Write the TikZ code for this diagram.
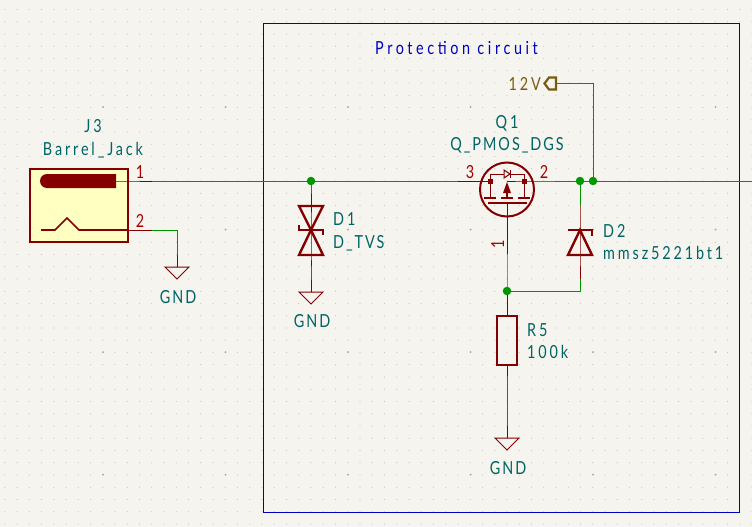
\documentclass[tikz,border=0pt]{standalone}
\usepackage{fontspec}
\setmainfont[LetterSpace=16,FakeStretch=0.8]{Lato}
\definecolor{paper}{HTML}{F5F4EF}
\definecolor{wirecol}{HTML}{009600}
\definecolor{symcol}{HTML}{840000}
\definecolor{bodycol}{HTML}{FFFFC2}
\definecolor{refcol}{HTML}{006464}
\definecolor{pincol}{HTML}{A90000}
\definecolor{portcol}{HTML}{7A5A10}
\definecolor{sheetcol}{HTML}{0000C2}
\newcommand{\tight}{\addfontfeature{LetterSpace=11}}
\newcommand{\wide}{\addfontfeature{LetterSpace=20}}
\tikzset{
wire/.style = {draw=wirecol, line width=0.95pt},
pinline/.style = {draw=symcol, line width=0.95pt},
sym/.style = {draw=symcol, line width=2.4pt},
thin sym/.style = {draw=symcol, line width=1pt},
junct/.style = {circle, fill=wirecol, inner sep=0pt, minimum size=8.5pt},
pinnum/.style = {text=pincol, font=\fontsize{18}{18}\selectfont, inner sep=0pt},
lbl/.style = {text=refcol, font=\fontsize{18}{18}\selectfont, inner sep=0pt},
}
\newcommand{\gndsym}[1]{\draw[thin sym] (#1) ++(-12,0) -- ++(24,0) -- ++(-12,12) -- cycle;}
\begin{document}
\begin{tikzpicture}[x=1pt, y=-1pt]
\useasboundingbox (0,0) rectangle (752,527);
\fill[paper] (0,0) rectangle (752,527);
% grid
\foreach \i in {0,...,61} \foreach \j in {0,...,43}
  \fill[black!22] ({4.75+12.25*\i},{9.5+12.25*\j}) circle (0.6);
\foreach \i in {0,...,5} \foreach \j in {1,...,4}
  \fill[black!35] ({103+122.5*\i},{-15.5+122.5*\j}) circle (1);
% sheet
\draw[sheetcol, line width=0.95pt] (263,23) rectangle (739,512);
\node[text=sheetcol, font=\fontsize{18}{18}\selectfont\wide, inner sep=0pt, anchor=base west] (title) at (375,55) {Protection circuit};
% points
\coordinate (j1) at (128,181);
\coordinate (j1e) at (152,181);
\coordinate (j2) at (128,230);
\coordinate (j2e) at (152,230);
\coordinate (g1) at (177,230);
\coordinate (g1p) at (177,255);
\coordinate (g1t) at (177,267);
\coordinate (n1) at (311,181);
\coordinate (d1t) at (311,194);
\coordinate (d1m) at (311,230);
\coordinate (d1b) at (311,255);
\coordinate (d1w) at (311,266);
\coordinate (g2p) at (311,280);
\coordinate (g2t) at (311,292);
\coordinate (q1s) at (458,181);
\coordinate (q1sp) at (490,181);
\coordinate (q1d) at (524,181);
\coordinate (q1dp) at (555,181);
\coordinate (q1g) at (507,203);
\coordinate (q1gp) at (507,254);
\coordinate (n2) at (507,291);
\coordinate (n3) at (580,181);
\coordinate (n4) at (593,181);
\coordinate (out) at (752,181);
\coordinate (d2t) at (580,205);
\coordinate (d2b) at (580,254);
\coordinate (d2w) at (580,279);
\coordinate (c2) at (580,291);
\coordinate (r5t) at (507,303);
\coordinate (r5tw) at (507,315);
\coordinate (r5b) at (507,365);
\coordinate (r5bw) at (507,376);
\coordinate (g3p) at (507,426);
\coordinate (g3t) at (507,438);
\coordinate (port) at (557,83.5);
\coordinate (pc) at (593,83.5);
% wires
\draw[wire] (j1e) -- (q1s);
\draw[wire] (q1dp) -- (out);
\draw[wire] (j2e) -- (g1) -- (g1p);
\draw[wire] (n1) -- (d1t);
\draw[wire] (d1w) -- (g2p);
\draw[wire] (n3) -- (d2t);
\draw[wire] (n4) -- (pc) -- (port);
\draw[wire] (d2w) -- (c2) -- (n2);
\draw[wire] (q1gp) -- (n2) -- (r5t);
\draw[wire] (r5bw) -- (g3p);
% J3
\draw[sym, fill=bodycol] (30,169) rectangle (128,242);
\fill[symcol] (116,174) -- (47,174) arc (90:270:7 and -7) -- (116,188) -- cycle;
\draw[symcol, line width=1.6pt] (41,230) -- (55,230) -- (67,218) -- (79,230) -- (128,230);
\draw[pinline] (116,181) -- (j1) -- (j1e);
\draw[pinline] (j2) -- (j2e);
\node[pinnum, anchor=base] (p1) at (140,178) {1};
\node[pinnum, anchor=base] (p2) at (140,227) {2};
\node[lbl, anchor=base] (j3ref) at (93,132) {J3};
\node[lbl, anchor=base] (j3val) at (93,155) {Barrel\_Jack};
% gnd 1
\draw[pinline] (g1p) -- (g1t);
\gndsym{g1t}
\node[lbl, anchor=base] (gnd1) at (178,303) {\tight GND};
% D1
\draw[pinline] (d1t) -- (d1m) -- (d1b) -- (d1w);
\draw[sym] (299,206) -- (323,206) -- (311,230) -- cycle;
\draw[sym] (299,255) -- (323,255) -- (311,230) -- cycle;
\draw[sym] (299,225) -- (299,230) -- (323,230) -- (323,235);
\node[lbl, anchor=base west] (d1ref) at (333,225) {D1};
\node[lbl, anchor=base west] (d1val) at (333,248) {\tight D\_TVS};
\draw[pinline] (g2p) -- (g2t);
\gndsym{g2t}
\node[lbl, anchor=base] (gnd2) at (312,327) {\tight GND};
% Q1
\draw[symcol, line width=2pt] (507,189.5) circle (27);
\draw[pinline] (q1s) -- (q1sp);
\draw[pinline] (q1dp) -- (q1d) -- (507,181);
\draw[thin sym] (q1sp) -- (490,174) -- (504,174);
\draw[thin sym] (510,174) -- (524,174) -- (q1d);
\draw[thin sym] (504,170) -- (504,178) -- (510,174) -- cycle;
\draw[thin sym] (510,170) -- (510,178);
\fill[symcol] (487.5,178.5) rectangle (492.5,183.5);
\fill[symcol] (521.5,178.5) rectangle (526.5,183.5);
\fill[symcol] (507,182) -- (503,193) -- (511,193) -- cycle;
\draw[symcol, line width=2pt] (484,197.5) -- (496,197.5);
\draw[symcol, line width=2pt] (501,197.5) -- (513,197.5);
\draw[symcol, line width=2pt] (518,197.5) -- (530,197.5);
\draw[symcol, line width=2pt] (488,203) -- (527,203);
\draw[thin sym] (q1sp) -- (490,197);
\draw[thin sym] (q1d) -- (524,197);
\draw[symcol, line width=1.6pt] (507,193) -- (507,197);
\draw[pinline] (q1g) -- (q1gp);
\node[pinnum, anchor=base] (p3) at (470,178) {3};
\node[pinnum, anchor=base] (p4) at (544,178) {2};
\node[pinnum, anchor=base, rotate=90] (p5) at (504,244) {1};
\node[lbl, anchor=base] (q1ref) at (507,128) {Q1};
\node[lbl, anchor=base] (q1val) at (507,150) {\tight Q\_PMOS\_DGS};
% D2
\draw[pinline] (d2t) -- (d2b) -- (d2w);
\draw[sym] (568,255) -- (592,255) -- (580,230) -- cycle;
\draw[sym] (568,230) -- (592,230) -- (592,236);
\node[lbl, anchor=base west] (d2ref) at (603,237) {D2};
\node[lbl, anchor=base west] (d2val) at (603,259) {mmsz5221bt1};
% R5
\draw[pinline] (n2) -- (r5tw);
\draw[sym] (497,316) rectangle (517,365);
\draw[pinline] (r5b) -- (r5bw);
\node[lbl, anchor=base west] (r5ref) at (527,336) {R5};
\node[lbl, anchor=base west] (r5val) at (527,358) {100k};
\draw[pinline] (g3p) -- (g3t);
\gndsym{g3t}
\node[lbl, anchor=base] (gnd3) at (508,474) {\tight GND};
% 12V
\draw[draw=portcol, line width=2.2pt] (556,77.5) -- (549,77.5) -- (544.5,83.5) -- (549,89.5) -- (556,89.5) -- cycle;
\node[anchor=base east, text=portcol, font=\fontsize{18}{18}\selectfont, inner sep=0pt] (v12) at (541,90) {12V};
% junctions
\node[junct] (d1) at (n1) {};
\node[junct] (d2) at (n3) {};
\node[junct] (d3) at (n4) {};
\node[junct] (d4) at (n2) {};
\end{tikzpicture}
\end{document}
